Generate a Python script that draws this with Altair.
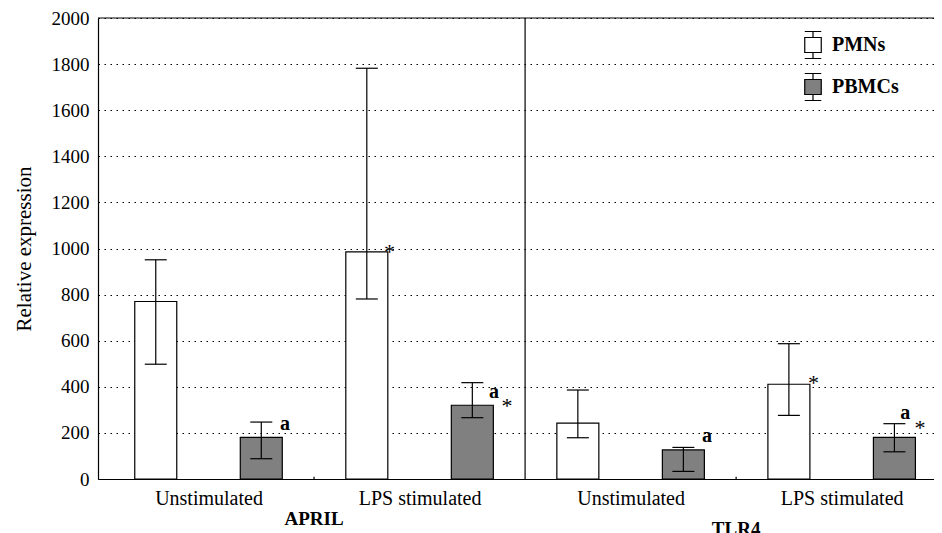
import json
import altair as alt
import pandas as pd

# ---- data ----
genes = ["APRIL", "APRIL", "TLR4", "TLR4"]
conditions = ["Unstimulated", "LPS stimulated", "Unstimulated", "LPS stimulated"]
series = ["PMNs", "PBMCs"]

pmn_mean = [770, 985, 242, 411]
pmn_lo = [498, 781, 179, 276]
pmn_hi = [951, 1782, 386, 587]

pbmc_mean = [181, 320, 126, 181]
pbmc_lo = [88, 266, 33, 118]
pbmc_hi = [247, 418, 137, 240]

# significance marks: bar (condition index, series), symbol, height read in data units,
# horizontal offset from bar centre in pixels
ann_group = [0, 1, 1, 1, 2, 3, 3, 3]
ann_series = ["PBMCs", "PMNs", "PBMCs", "PBMCs", "PBMCs", "PMNs", "PBMCs", "PBMCs"]
ann_text = ["a", "*", "a", "*", "a", "*", "a", "*"]
ann_y = [234, 1006, 373, 338, 182, 438, 282, 243]
ann_dx = [24, 23, 22, 35, 24, 25, 11, 26]

y_ticks = list(range(0, 2001, 200))

# ---- layout ----
W, H = 836, 461
GROUP_PX = 213.6
XMAX = W / GROUP_PX
SERIES_OFF = {"PMNs": 0.25, "PBMCs": 0.75}
SERIF = "'Liberation Serif', 'Times New Roman', Times, serif"

rows = []
for g in range(len(conditions)):
    for s, m, lo, hi in (("PMNs", pmn_mean, pmn_lo, pmn_hi), ("PBMCs", pbmc_mean, pbmc_lo, pbmc_hi)):
        rows.append({"g": g, "series": s, "pos": g + SERIES_OFF[s],
                     "mean": m[g], "lo": lo[g], "hi": hi[g]})
df = pd.DataFrame(rows)

arows = []
for g, s, t, y, dx in zip(ann_group, ann_series, ann_text, ann_y, ann_dx):
    arows.append({"pos": g + SERIES_OFF[s] + dx / GROUP_PX, "text": t, "y": y})
adf = pd.DataFrame(arows)

gene_rows = []
for gene in dict.fromkeys(genes):
    idx = [i for i, gg in enumerate(genes) if gg == gene]
    gene_rows.append({"gene": gene, "pos": (min(idx) + max(idx) + 1) / 2})
gdf = pd.DataFrame(gene_rows)

divider = genes.index("TLR4")
minor_bounds = [i for i in range(1, len(genes)) if genes[i] == genes[i - 1]]

xscale = alt.Scale(domain=[0, XMAX], nice=False, zero=False)
yscale = alt.Scale(domain=[0, 2000], nice=False)

label_expr = json.dumps(conditions) + "[floor(datum.value)]"

x_axis = alt.Axis(values=[i + 0.5 for i in range(len(conditions))], labelExpr=label_expr,
                  title=None, ticks=False, grid=False, domainColor="black", domainWidth=1.2,
                  labelFont=SERIF, labelFontSize=20, labelColor="black", labelPadding=9,
                  labelBaseline="top", labelFlush=False)
y_axis = alt.Axis(values=y_ticks, format="d", title="Relative expression", ticks=False,
                  grid=True, gridColor="black", gridDash=[1.5, 4.5], gridWidth=1, gridOpacity=1,
                  domainColor="black", domainWidth=1.2,
                  labelFont=SERIF, labelFontSize=19, labelColor="black", labelPadding=9,
                  titleFont=SERIF, titleFontSize=21, titleFontWeight="normal", titleColor="black",
                  titlePadding=17)

legend_path = ("M-0.55,-0.5H0.55V0.5H-0.55Z M0,-0.5V-0.9 M-0.55,-0.9H0.55 "
               "M0,0.5V0.9 M-0.55,0.9H0.55")

base = alt.Chart(df)

bars = base.mark_bar(width=42, stroke="black", strokeWidth=1.2, orient="vertical").encode(
    x=alt.X("pos:Q", scale=xscale, axis=x_axis),
    y=alt.Y("mean:Q", scale=yscale, axis=y_axis),
    fill=alt.Fill("series:N", scale=alt.Scale(domain=series, range=["white", "#808080"]),
                  legend=alt.Legend(title=None, orient="none", legendX=699, legendY=11,
                                    symbolType=legend_path, symbolSize=900,
                                    symbolStrokeColor="black", symbolStrokeWidth=1.2,
                                    labelFont=SERIF, labelFontSize=20, labelFontWeight="bold",
                                    labelColor="black", labelOffset=3, rowPadding=10,
                                    padding=0)),
)

err = base.mark_rule(color="black", strokeWidth=1.2).encode(
    x=alt.X("pos:Q", scale=xscale), y=alt.Y("lo:Q", scale=yscale), y2="hi:Q")
cap_lo = base.mark_tick(orient="horizontal", size=22, thickness=1.2, color="black", opacity=1).encode(
    x=alt.X("pos:Q", scale=xscale), y=alt.Y("lo:Q", scale=yscale))
cap_hi = base.mark_tick(orient="horizontal", size=22, thickness=1.2, color="black", opacity=1).encode(
    x=alt.X("pos:Q", scale=xscale), y=alt.Y("hi:Q", scale=yscale))

ann = alt.Chart(adf)
txt_a = ann.transform_filter("datum.text == 'a'").mark_text(
    font=SERIF, fontSize=20, fontWeight="bold", color="black", dy=5, baseline="alphabetic"
).encode(x=alt.X("pos:Q", scale=xscale), y=alt.Y("y:Q", scale=yscale), text="text:N")
txt_s = ann.transform_filter("datum.text == '*'").mark_text(
    font=SERIF, fontSize=22, color="black", dy=12, baseline="alphabetic"
).encode(x=alt.X("pos:Q", scale=xscale), y=alt.Y("y:Q", scale=yscale), text="text:N")

gbase = alt.Chart(gdf)
g1 = gbase.transform_filter("datum.gene == 'APRIL'").mark_text(
    font=SERIF, fontSize=19, fontWeight="bold", color="black", baseline="middle").encode(
    x=alt.X("pos:Q", scale=xscale), y=alt.value(H + 40), text="gene:N")
g2 = gbase.transform_filter("datum.gene == 'TLR4'").mark_text(
    font=SERIF, fontSize=19, fontWeight="bold", color="black", baseline="middle").encode(
    x=alt.X("pos:Q", scale=xscale), y=alt.value(H + 50), text="gene:N")

top_rule = alt.Chart(pd.DataFrame({"y": [2000]})).mark_rule(color="black", strokeWidth=1.2).encode(
    y=alt.Y("y:Q", scale=yscale))
div_rule = alt.Chart(pd.DataFrame({"x": [divider]})).mark_rule(color="black", strokeWidth=1.2).encode(
    x=alt.X("x:Q", scale=xscale))
minor = alt.Chart(pd.DataFrame({"x": minor_bounds, "y0": [0] * len(minor_bounds),
                                "y1": [10] * len(minor_bounds)})).mark_rule(
    color="black", strokeWidth=1.2).encode(
    x=alt.X("x:Q", scale=xscale), y=alt.Y("y0:Q", scale=yscale), y2="y1:Q")

chart = alt.layer(bars, err, cap_lo, cap_hi, txt_a, txt_s, g1, g2,
                  top_rule, div_rule, minor).properties(
    width=W, height=H,
    autosize=alt.AutoSizeParams(type="none"),
    padding={"left": 90, "top": 10, "right": 0, "bottom": 54},
    background="white",
).configure_view(stroke=None)

chart.save("out.html", embed_options={"renderer": "svg", "actions": False})
